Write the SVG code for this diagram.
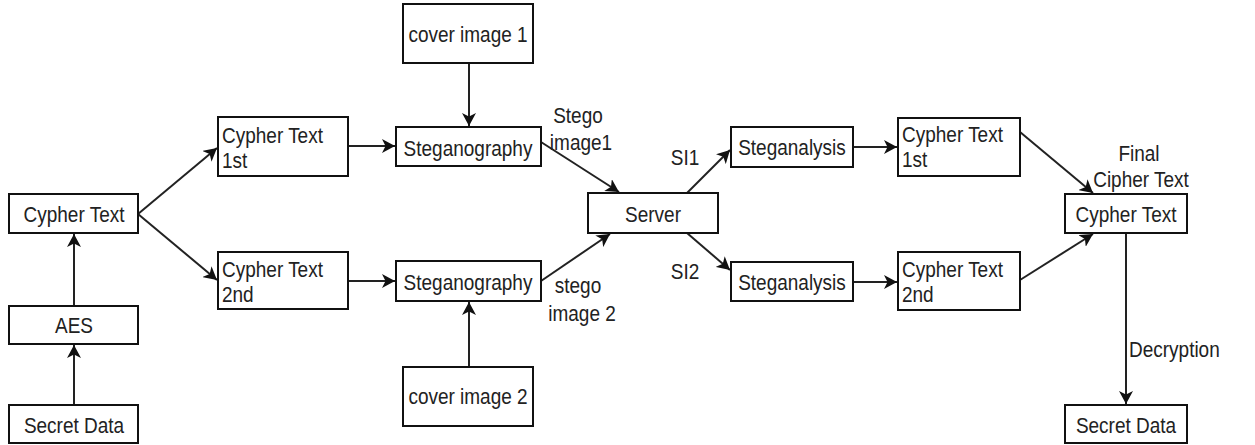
<svg xmlns="http://www.w3.org/2000/svg" width="1255" height="445" viewBox="0 0 1255 445">
<style>
  .box { fill: #ffffff; stroke: #111; stroke-width: 2; }
  .t { font-family: "Liberation Sans", Arial, sans-serif; font-size: 19px; fill: #222; }
  .m { text-anchor: middle; }
  .c { fill: none; stroke: #222; stroke-width: 2; marker-end: url(#ah); }
</style>
<defs>
  <marker id="ah" markerWidth="14" markerHeight="14" refX="13" refY="7" orient="auto" markerUnits="userSpaceOnUse">
    <path d="M0,0 L13,7 L0,14 L3.5,7 z" fill="#111"/>
  </marker>
</defs>
<rect width="1255" height="445" fill="#ffffff"/>
<g id="connectors">
  <line class="c" x1="74" y1="405" x2="74" y2="345"/>
  <line class="c" x1="74" y1="306" x2="74" y2="234"/>
  <line class="c" x1="138" y1="214" x2="217" y2="148"/>
  <line class="c" x1="138" y1="214" x2="217" y2="280"/>
  <line class="c" x1="348" y1="146" x2="395" y2="146"/>
  <line class="c" x1="348" y1="281" x2="395" y2="281"/>
  <line class="c" x1="469" y1="63" x2="469" y2="126"/>
  <line class="c" x1="469" y1="367" x2="469" y2="302"/>
  <line class="c" x1="541" y1="142" x2="619" y2="192"/>
  <line class="c" x1="541" y1="281" x2="610" y2="234"/>
  <line class="c" x1="687" y1="193" x2="730" y2="150"/>
  <line class="c" x1="687" y1="233" x2="730" y2="270"/>
  <line class="c" x1="853" y1="147" x2="897" y2="147"/>
  <line class="c" x1="853" y1="282" x2="897" y2="282"/>
  <line class="c" x1="1020" y1="132" x2="1093" y2="193"/>
  <line class="c" x1="1020" y1="280" x2="1093" y2="234"/>
  <line class="c" x1="1126" y1="233" x2="1126" y2="404"/>
</g>
<g id="edge-labels">
  <text class="t m" transform="translate(578,123) scale(1,1.2)">Stego</text>
  <text class="t m" transform="translate(581,150) scale(1,1.2)">image1</text>
  <text class="t m" transform="translate(578,293) scale(1,1.2)">stego</text>
  <text class="t m" transform="translate(582,321) scale(1,1.2)">image 2</text>
  <text class="t m" transform="translate(685,165) scale(1,1.2)">SI1</text>
  <text class="t m" transform="translate(685,279) scale(1,1.2)">SI2</text>
  <text class="t m" transform="translate(1139,161) scale(1,1.2)">Final</text>
  <text class="t m" transform="translate(1141,187) scale(1,1.2)">Cipher Text</text>
  <text class="t" transform="translate(1129,357) scale(1,1.2)">Decryption</text>
</g>
<g id="cypher-text">
  <rect class="box" x="9" y="194" width="129" height="39"/>
  <text class="t m" transform="translate(74,222) scale(1,1.2)">Cypher Text</text>
</g>
<g id="aes">
  <rect class="box" x="9" y="306" width="129" height="38"/>
  <text class="t m" transform="translate(74,333) scale(1,1.2)">AES</text>
</g>
<g id="secret-data-1">
  <rect class="box" x="9" y="405" width="129" height="38"/>
  <text class="t m" transform="translate(74,433) scale(1,1.2)">Secret Data</text>
</g>
<g id="cypher-1st">
  <rect class="box" x="218" y="117" width="130" height="59"/>
  <text class="t" transform="translate(222,143) scale(1,1.2)">Cypher Text<tspan x="0" dy="21">1st</tspan></text>
</g>
<g id="cypher-2nd">
  <rect class="box" x="218" y="252" width="130" height="57"/>
  <text class="t" transform="translate(222,277) scale(1,1.2)">Cypher Text<tspan x="0" dy="21">2nd</tspan></text>
</g>
<g id="cover-1">
  <rect class="box" x="403" y="4" width="130" height="59"/>
  <text class="t m" transform="translate(468,42) scale(1,1.2)">cover image 1</text>
</g>
<g id="steg-1">
  <rect class="box" x="396" y="127" width="145" height="39"/>
  <text class="t m" transform="translate(468,156) scale(1,1.2)">Steganography</text>
</g>
<g id="steg-2">
  <rect class="box" x="396" y="261" width="145" height="40"/>
  <text class="t m" transform="translate(468,290) scale(1,1.2)">Steganography</text>
</g>
<g id="cover-2">
  <rect class="box" x="403" y="367" width="130" height="59"/>
  <text class="t m" transform="translate(468,404) scale(1,1.2)">cover image 2</text>
</g>
<g id="server">
  <rect class="box" x="588" y="193" width="130" height="40"/>
  <text class="t m" transform="translate(653,222) scale(1,1.2)">Server</text>
</g>
<g id="steganalysis-1">
  <rect class="box" x="731" y="127" width="122" height="40"/>
  <text class="t m" transform="translate(792,155) scale(1,1.2)">Steganalysis</text>
</g>
<g id="steganalysis-2">
  <rect class="box" x="731" y="262" width="122" height="39"/>
  <text class="t m" transform="translate(792,290) scale(1,1.2)">Steganalysis</text>
</g>
<g id="cypher-1st-r">
  <rect class="box" x="898" y="118" width="122" height="58"/>
  <text class="t" transform="translate(902,142) scale(1,1.2)">Cypher Text<tspan x="0" dy="21">1st</tspan></text>
</g>
<g id="cypher-2nd-r">
  <rect class="box" x="898" y="252" width="122" height="58"/>
  <text class="t" transform="translate(902,277) scale(1,1.2)">Cypher Text<tspan x="0" dy="21">2nd</tspan></text>
</g>
<g id="final-cypher">
  <rect class="box" x="1065" y="194" width="122" height="39"/>
  <text class="t m" transform="translate(1126,222) scale(1,1.2)">Cypher Text</text>
</g>
<g id="secret-data-2">
  <rect class="box" x="1065" y="405" width="122" height="38"/>
  <text class="t m" transform="translate(1126,433) scale(1,1.2)">Secret Data</text>
</g>
</svg>
